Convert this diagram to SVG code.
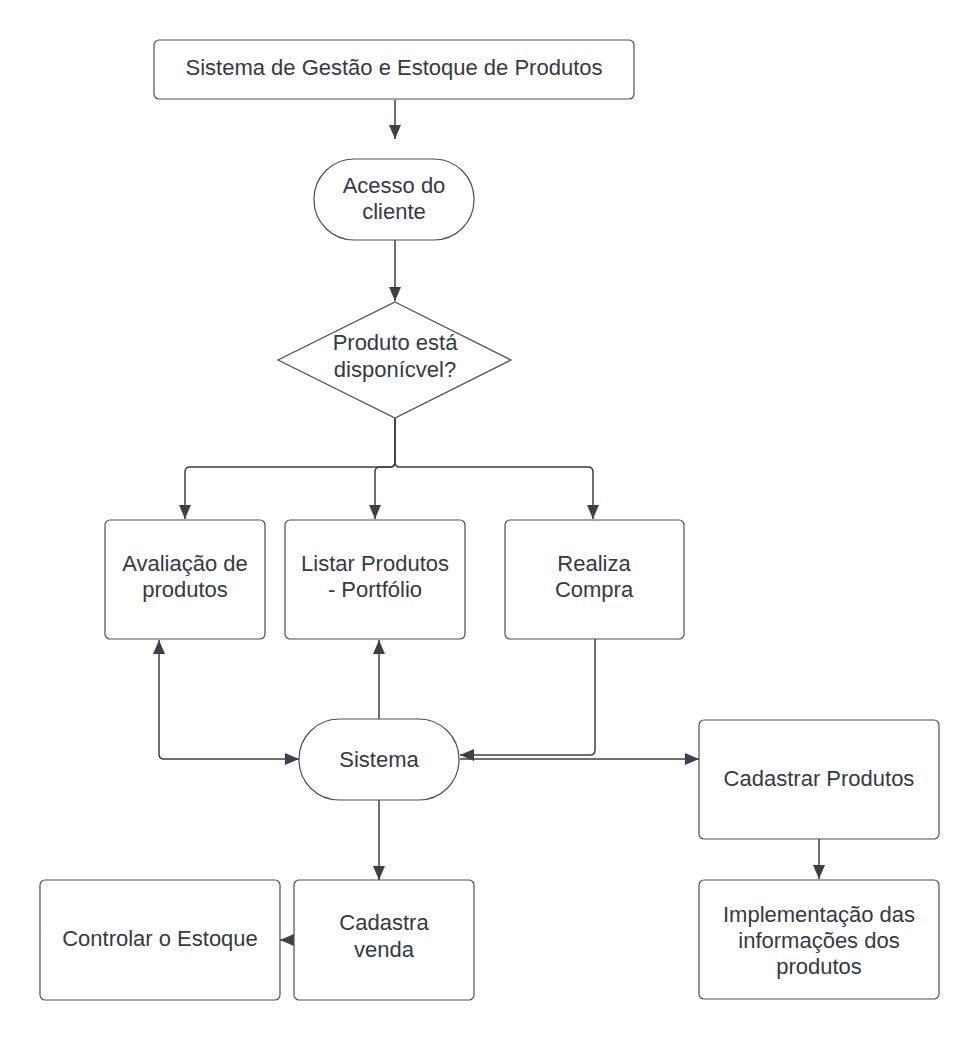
<svg xmlns="http://www.w3.org/2000/svg" width="979" height="1040" viewBox="0 0 979 1040">
<style>
.box{fill:#ffffff;stroke:#4a4f57;stroke-width:1.2}
.t{font-family:"Liberation Sans",Arial,sans-serif;font-size:22px;fill:#333a45;text-anchor:middle}
.c{fill:none;stroke:#3a414a;stroke-width:1.5}
</style>
<defs>
<marker id="ah" viewBox="0 0 14 12" refX="14" refY="6" markerWidth="14" markerHeight="12" markerUnits="userSpaceOnUse" orient="auto-start-reverse">
<path d="M0,0 L14,6 L0,12 Z" fill="#3a414a"/>
</marker>
</defs>
<rect width="979" height="1040" fill="#ffffff"/>
<g id="connectors">
<path class="c" d="M395,100 V139" marker-end="url(#ah)"/>
<path class="c" d="M395,240 V301" marker-end="url(#ah)"/>
<path class="c" d="M395,418 V462 Q395,467 390,467 H190 Q185,467 185,472 V519" marker-end="url(#ah)"/>
<path class="c" d="M395,418 V462 Q395,467 390,467 H380 Q375,467 375,472 V519" marker-end="url(#ah)"/>
<path class="c" d="M395,418 V462 Q395,467 400,467 H588 Q593,467 593,472 V519" marker-end="url(#ah)"/>
<path class="c" d="M299,759 H164 Q159,759 159,754 V640" marker-start="url(#ah)" marker-end="url(#ah)"/>
<path class="c" d="M379,719 V640" marker-end="url(#ah)"/>
<path class="c" d="M595,639 V750 Q595,755 590,755 H460" marker-end="url(#ah)"/>
<path class="c" d="M460,759 H699" marker-end="url(#ah)"/>
<path class="c" d="M379,800 V880" marker-end="url(#ah)"/>
<path class="c" d="M294,940 H280" marker-end="url(#ah)"/>
<path class="c" d="M819,839 V879" marker-end="url(#ah)"/>
</g>
<g id="title">
<rect class="box" x="154" y="40" width="480" height="59" rx="5"/>
<text class="t" x="394" y="75">Sistema de Gestão e Estoque de Produtos</text>
</g>
<g id="acesso">
<rect class="box" x="314" y="159" width="160" height="81" rx="40"/>
<text class="t" x="394" y="193">Acesso do</text>
<text class="t" x="394" y="219">cliente</text>
</g>
<g id="decisao">
<path class="box" d="M395,302 L511,360 L395,418 L278,360 Z"/>
<text class="t" x="395" y="350">Produto está</text>
<text class="t" x="395" y="377">disponícvel?</text>
</g>
<g id="avaliacao">
<rect class="box" x="105" y="520" width="160" height="119" rx="5"/>
<text class="t" x="185" y="571">Avaliação de</text>
<text class="t" x="185" y="597">produtos</text>
</g>
<g id="listar">
<rect class="box" x="285" y="520" width="180" height="119" rx="5"/>
<text class="t" x="375" y="571">Listar Produtos</text>
<text class="t" x="375" y="597">- Portfólio</text>
</g>
<g id="realiza">
<rect class="box" x="505" y="520" width="179" height="119" rx="5"/>
<text class="t" x="594" y="571">Realiza</text>
<text class="t" x="594" y="597">Compra</text>
</g>
<g id="sistema">
<rect class="box" x="299" y="719" width="160" height="81" rx="40"/>
<text class="t" x="379" y="767">Sistema</text>
</g>
<g id="cadastrar">
<rect class="box" x="699" y="720" width="240" height="119" rx="5"/>
<text class="t" x="819" y="786">Cadastrar Produtos</text>
</g>
<g id="implementacao">
<rect class="box" x="699" y="880" width="240" height="119" rx="5"/>
<text class="t" x="819" y="922">Implementação das</text>
<text class="t" x="819" y="948">informações dos</text>
<text class="t" x="819" y="974">produtos</text>
</g>
<g id="cadastra-venda">
<rect class="box" x="294" y="880" width="180" height="120" rx="5"/>
<text class="t" x="384" y="930">Cadastra</text>
<text class="t" x="384" y="957">venda</text>
</g>
<g id="controlar">
<rect class="box" x="40" y="880" width="240" height="120" rx="5"/>
<text class="t" x="160" y="946">Controlar o Estoque</text>
</g>
</svg>
